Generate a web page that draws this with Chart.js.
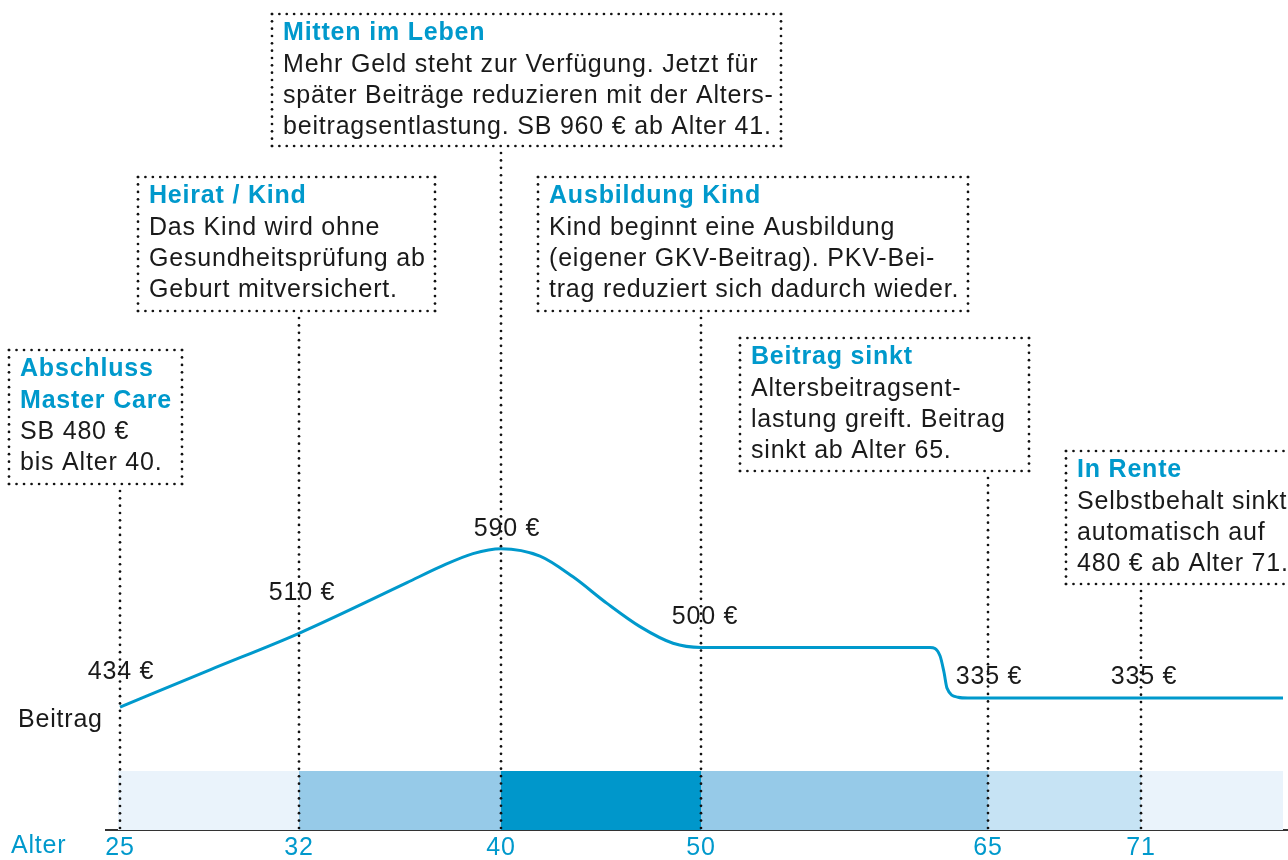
<!DOCTYPE html>
<html lang="de">
<head>
<meta charset="utf-8">
<title>Beitragsverlauf Master Care</title>
<script src="https://cdn.jsdelivr.net/npm/chart.js@4/dist/chart.umd.min.js"></script>
<style>
  html, body { margin: 0; padding: 0; background: #fff; }
  #wrap { width: 1288px; height: 860px; }
</style>
</head>
<body>
<div id="wrap"><canvas id="chart" width="1288" height="860"></canvas></div>
<script>
// ---- Daten ----
// Altersachse: Beschriftung und Lage auf der Zeitleiste (nicht linear)
const ageLabels = ['25', '32', '40', '50', '65', '71'];
const agePos = [14, 193, 395, 595, 882, 1035];
const timelineEnd = 1177;

// Beitragskurve (schematisch, Zeitleiste / Höhe)
const curveX = [14, 104, 193, 301, 334, 367, 395, 434, 467, 501, 534, 567, 595, 824, 834, 838, 841, 852, 862, 882, 1035, 1177];
const curveY = [14.8, 19.3, 23.7, 29.8, 31.7, 33.3, 33.9, 33.0, 30.5, 27.3, 24.5, 22.5, 22.0, 22.0, 21.0, 19.0, 17.1, 16.0, 15.9, 15.9, 15.9, 15.9];

// Beiträge an den Altersmarken
const priceLabels = ['434 €', '510 €', '590 €', '500 €', '335 €', '335 €'];
const pricePoint = [0, 2, 6, 12, 19, 20];

// Phasen-Balken unten
const bandStart = [12, 193, 395, 595, 882, 1035];
const bandEnd = [193, 395, 595, 882, 1035, timelineEnd];
const bandHeight = 7.1;
const bandColors = ['#eaf3fb', '#96cae8', '#0097cb', '#96cae8', '#c6e3f4', '#eaf3fb'];

// Hinweiskästen
const noteTitles = [
  ['Abschluss', 'Master Care'],
  ['Heirat / Kind'],
  ['Mitten im Leben'],
  ['Ausbildung Kind'],
  ['Beitrag sinkt'],
  ['In Rente']
];
const noteTexts = [
  ['SB 480 €', 'bis Alter 40.'],
  ['Das Kind wird ohne', 'Gesundheitsprüfung ab', 'Geburt mitversichert.'],
  ['Mehr Geld steht zur Verfügung. Jetzt für', 'später Beiträge reduzieren mit der Alters-', 'beitragsentlastung. SB 960 € ab Alter 41.'],
  ['Kind beginnt eine Ausbildung', '(eigener GKV-Beitrag). PKV-Bei-', 'trag reduziert sich dadurch wieder.'],
  ['Altersbeitragsent-', 'lastung greift. Beitrag', 'sinkt ab Alter 65.'],
  ['Selbstbehalt sinkt', 'automatisch auf', '480 € ab Alter 71.']
];

// ---- Layout ----
const BLUE = '#0099cc';
const INK = '#1a1a1a';
const FONT = '"Liberation Sans", Arial, Helvetica, sans-serif';
const SPACING = '0.8px';
const noteBoxes = [
  { x: 9,    y: 350, w: 173, h: 134 },
  { x: 138,  y: 177, w: 297, h: 134 },
  { x: 272,  y: 14,  w: 509, h: 132 },
  { x: 538,  y: 177, w: 430, h: 134 },
  { x: 740,  y: 338, w: 289, h: 133 },
  { x: 1066, y: 451, w: 240, h: 133 }
];
const labelOffset = [
  { dx: 1, dy: 35 }, { dx: 3, dy: 40 }, { dx: 6, dy: 20 },
  { dx: 4, dy: 30 }, { dx: 1, dy: 21 }, { dx: 3, dy: 21 }
];

function dots(ctx, x1, y1, x2, y2) {
  const len = Math.hypot(x2 - x1, y2 - y1);
  const n = Math.round(len / 7.4);
  ctx.fillStyle = '#111';
  for (let i = 0; i <= n; i++) {
    const t = n ? i / n : 0;
    ctx.beginPath();
    ctx.arc(x1 + (x2 - x1) * t, y1 + (y2 - y1) * t, 1.35, 0, Math.PI * 2);
    ctx.fill();
  }
}

const spacingPlugin = {
  id: 'spacing',
  beforeDraw(chart) {
    chart.ctx.letterSpacing = SPACING;
  }
};

const notesPlugin = {
  id: 'notes',
  afterDraw(chart) {
    const ctx = chart.ctx;
    const xs = chart.scales.x;
    const bottom = chart.chartArea.bottom;
    ctx.save();
    ctx.letterSpacing = SPACING;
    ctx.textBaseline = 'middle';

    noteBoxes.forEach((b, i) => {
      // Kasten
      dots(ctx, b.x, b.y, b.x + b.w, b.y);
      dots(ctx, b.x, b.y + b.h, b.x + b.w, b.y + b.h);
      dots(ctx, b.x, b.y, b.x, b.y + b.h);
      dots(ctx, b.x + b.w, b.y, b.x + b.w, b.y + b.h);
      // Linie zur Altersmarke
      const px = xs.getPixelForValue(agePos[i]);
      dots(ctx, px, b.y + b.h + 7, px, bottom - 2);

      // Text
      let ly = b.y + 19.5;
      ctx.textAlign = 'left';
      ctx.font = 'bold 25px ' + FONT;
      ctx.fillStyle = BLUE;
      noteTitles[i].forEach(t => { ctx.fillText(t, b.x + 11, ly); ly += 31.2; });
      ctx.font = '25px ' + FONT;
      ctx.fillStyle = INK;
      noteTexts[i].forEach(t => { ctx.fillText(t, b.x + 11, ly); ly += 31.2; });
    });

    // Beitragswerte
    const meta = chart.getDatasetMeta(0);
    ctx.font = '25px ' + FONT;
    ctx.fillStyle = INK;
    ctx.textAlign = 'center';
    priceLabels.forEach((t, i) => {
      const pt = meta.data[pricePoint[i]];
      ctx.fillText(t, pt.x + labelOffset[i].dx, pt.y - labelOffset[i].dy);
    });

    // Achsentitel
    ctx.textAlign = 'left';
    ctx.fillText('Beitrag', 18, 720);
    ctx.fillStyle = BLUE;
    ctx.fillText('Alter', 11, 846);
    ctx.restore();
  }
};

const datasets = [{
  data: curveX.map((x, i) => ({ x: x, y: curveY[i] })),
  borderColor: BLUE,
  borderWidth: 3,
  pointRadius: 0,
  fill: false,
  cubicInterpolationMode: 'monotone',
  order: 0
}];
bandStart.forEach((s, i) => {
  datasets.push({
    data: [{ x: s, y: bandHeight }, { x: bandEnd[i], y: bandHeight }],
    borderWidth: 0,
    pointRadius: 0,
    backgroundColor: bandColors[i],
    fill: 'origin',
    order: 1
  });
});

new Chart(document.getElementById('chart'), {
  type: 'line',
  data: { datasets: datasets },
  options: {
    responsive: false,
    animation: false,
    layout: { padding: { left: 106, right: 0, top: 0, bottom: 0 } },
    plugins: { legend: { display: false }, tooltip: { enabled: false } },
    scales: {
      x: {
        type: 'linear',
        min: 0,
        max: 1182,
        grid: { display: false, drawTicks: false },
        border: { display: true, color: '#333', width: 2 },
        afterBuildTicks: scale => { scale.ticks = agePos.map(v => ({ value: v })); },
        afterFit: scale => { scale.height = 30; },
        ticks: {
          autoSkip: false,
          maxRotation: 0,
          padding: 3,
          color: BLUE,
          font: { family: FONT, size: 25 },
          callback: v => ageLabels[agePos.indexOf(v)]
        }
      },
      y: { display: false, min: 0, max: 100 }
    }
  },
  plugins: [spacingPlugin, notesPlugin]
});
</script>
</body>
</html>
